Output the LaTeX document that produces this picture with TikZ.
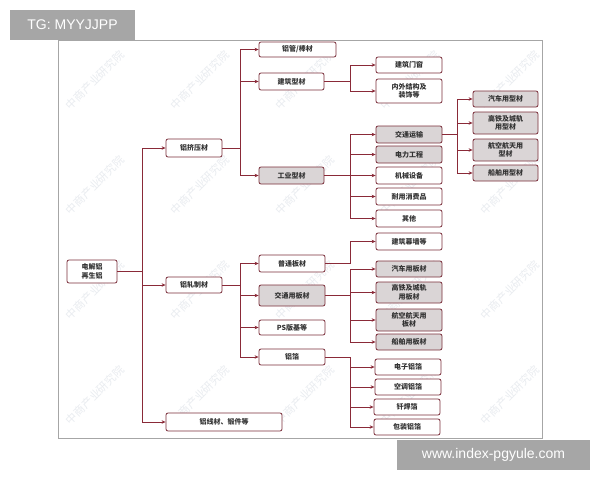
\documentclass[tikz,border=0pt]{standalone}
\usepackage{fontspec}
\newfontfamily\cjk{Noto Sans CJK SC}
\usetikzlibrary{arrows.meta}
\definecolor{linec}{HTML}{8A2A38}
\definecolor{boxc}{HTML}{7A2E3A}
\definecolor{shadec}{HTML}{DAD5D6}
\definecolor{tagc}{HTML}{A6A6A6}
\definecolor{wmc}{HTML}{E9ECF0}
\begin{document}
\begin{tikzpicture}[x=1pt,y=-1pt,
  box/.style={draw=boxc, rounded corners=2pt, fill=white, line width=0.8pt,
    font=\cjk\bfseries\fontsize{7}{8.5}\selectfont, text=black!80, align=center, inner sep=0pt},
  sbox/.style={box, fill=shadec},
  conn/.style={draw=linec, line width=0.8pt, -{Stealth[length=4pt,width=3.5pt]}},
  wm/.style={font=\cjk\fontsize{11}{11}\selectfont, text=wmc, rotate=45},
  tag/.style={fill=tagc, text=white, font=\fontspec{Liberation Sans}\fontsize{14}{14}\selectfont, inner sep=0pt}]
\useasboundingbox (0,0) rectangle (600,480);
\fill[white] (0,0) rectangle (600,480);
% frame
\draw[gray!70, line width=0.8pt] (58,40) rectangle (542,438);
% watermarks
\foreach \x in {95,200,305,410,510}{
  \foreach \y in {80,185,290,395}{
    \node[wm] at (\x,\y) {中商产业研究院};
  }
}
% trunk coordinates
\coordinate (t1) at (142,0);
\coordinate (t2) at (240,0);
\coordinate (t3) at (350,0);
\coordinate (t4) at (457,0);
% nodes
\node[box, minimum width=50pt, minimum height=23pt] (root) at (92,271.5) {电解铝\\再生铝};
\node[box, minimum width=56pt, minimum height=18pt] (jy) at (194,148) {铝挤压材};
\node[box, minimum width=56pt, minimum height=16pt] (zz) at (194,285) {铝轧制材};
\node[box, minimum width=116pt, minimum height=18pt] (xc) at (224,422) {铝线材、锻件等};
% extrusion branch
\node[box, minimum width=77pt, minimum height=15pt] (gb) at (297.5,49.5) {铝管/棒材};
\node[box, minimum width=65pt, minimum height=17pt] (jz) at (291.5,81.5) {建筑型材};
\node[sbox, minimum width=65pt, minimum height=17pt] (gy) at (291.5,175.5) {工业型材};
\node[box, minimum width=66pt, minimum height=16pt] (mc) at (409,65) {建筑门窗};
\node[box, minimum width=66pt, minimum height=24pt] (nw) at (409,91) {内外结构及\\装饰等};
\node[sbox, minimum width=66pt, minimum height=17pt] (jt) at (409,134.5) {交通运输};
\node[sbox, minimum width=66pt, minimum height=17pt] (dl) at (409,154.5) {电力工程};
\node[box, minimum width=66pt, minimum height=17pt] (jx) at (409,175.5) {机械设备};
\node[box, minimum width=66pt, minimum height=17pt] (nx) at (409,196.5) {耐用消费品};
\node[box, minimum width=66pt, minimum height=17pt] (qt) at (409,218.5) {其他};
\node[sbox, minimum width=65pt, minimum height=16pt] (qc) at (505.5,99) {汽车用型材};
\node[sbox, minimum width=65pt, minimum height=22pt] (gt) at (505.5,123) {高铁及城轨\\用型材};
\node[sbox, minimum width=65pt, minimum height=22pt] (hk) at (505.5,150) {航空航天用\\型材};
\node[sbox, minimum width=65pt, minimum height=16pt] (cb) at (505.5,173) {船舶用型材};
% rolling branch
\node[box, minimum width=66pt, minimum height=17pt] (pt) at (292,263.5) {普通板材};
\node[sbox, minimum width=66pt, minimum height=21pt] (jtb) at (292,295.5) {交通用板材};
\node[box, minimum width=66pt, minimum height=15pt] (ps) at (292,327.5) {PS版基等};
\node[box, minimum width=66pt, minimum height=16pt] (lb) at (292,357) {铝箔};
\node[box, minimum width=66pt, minimum height=17pt] (mq) at (409,241.5) {建筑幕墙等};
\node[sbox, minimum width=66pt, minimum height=16pt] (qcb) at (409,269) {汽车用板材};
\node[sbox, minimum width=66pt, minimum height=21pt] (gtb) at (409,292.5) {高铁及城轨\\用板材};
\node[sbox, minimum width=66pt, minimum height=22pt] (hkb) at (409,320) {航空航天用\\板材};
\node[sbox, minimum width=66pt, minimum height=16pt] (cbb) at (409,342) {船舶用板材};
\node[box, minimum width=66pt, minimum height=16pt] (dz) at (408,367) {电子铝箔};
\node[box, minimum width=66pt, minimum height=16pt] (kt) at (408,387) {空调铝箔};
\node[box, minimum width=66pt, minimum height=16pt] (qh) at (407,407) {钎焊箔};
\node[box, minimum width=66pt, minimum height=16pt] (bz) at (407,427) {包装铝箔};
% connectors
\foreach \n in {jy,zz,xc}{\draw[conn] (root.east) -- (root.east -| t1) |- (\n.west);}
\foreach \n in {gb,jz,gy}{\draw[conn] (jy.east) -- (jy.east -| t2) |- (\n.west);}
\foreach \n in {mc,nw}{\draw[conn] (jz.east) -- (jz.east -| t3) |- (\n.west);}
\foreach \n in {jt,dl,jx,nx,qt}{\draw[conn] (gy.east) -- (gy.east -| t3) |- (\n.west);}
\foreach \n in {qc,gt,hk,cb}{\draw[conn] (jt.east) -- (jt.east -| t4) |- (\n.west);}
\foreach \n in {pt,jtb,ps,lb}{\draw[conn] (zz.east) -- (zz.east -| t2) |- (\n.west);}
\draw[conn] (pt.east) -- (pt.east -| t3) |- (mq.west);
\foreach \n in {qcb,gtb,hkb,cbb}{\draw[conn] (jtb.east) -- (jtb.east -| t3) |- (\n.west);}
\foreach \n in {dz,kt,qh,bz}{\draw[conn] (lb.east) -- (lb.east -| t3) |- (\n.west);}
% tags
\node[tag, minimum width=125pt, minimum height=30pt] (tg) at (72.5,25) {TG: MYYJJPP};
\node[tag, minimum width=193pt, minimum height=30pt] (www) at (493.5,455) {www.index-pgyule.com};
\end{tikzpicture}
\end{document}
